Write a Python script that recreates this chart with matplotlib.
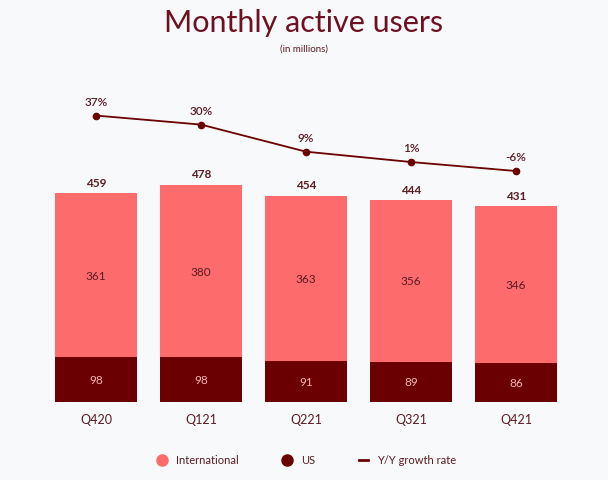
import matplotlib
matplotlib.use("Agg")
import matplotlib.pyplot as plt
from matplotlib.lines import Line2D

quarters = ["Q420", "Q121", "Q221", "Q321", "Q421"]
international = [361, 380, 363, 356, 346]
us = [98, 98, 91, 89, 86]
totals = [459, 478, 454, 444, 431]
growth = [37, 30, 9, 1, -6]
growth_labels = ["37%", "30%", "9%", "1%", "-6%"]

C_INT = "#fd6b6c"
C_US = "#6a0001"
C_TXT = "#5a1a22"
C_TITLE = "#6e1020"
BG = "#f8f9fb"

plt.rcParams['font.family'] = ['Lato', 'DejaVu Sans']

fig = plt.figure(figsize=(6.08, 4.81), dpi=100, facecolor=BG)
W, H = 608, 481
left = 43.5 / W
width = 525 / W
bottom = 1 - 403 / H
height = 303.6 / H
ax = fig.add_axes([left, bottom, width, height])
ax.set_facecolor("none")
x = list(range(len(quarters)))
ax.bar(x, us, width=0.78, color=C_US)
ax.bar(x, international, bottom=us, width=0.78, color=C_INT)
ax.set_xlim(-0.5, 4.5)
ax.set_ylim(0, 668)
for i in x:
    ax.text(i, us[i] / 2, str(us[i]), ha="center", va="center", color="#f3b5b5", fontsize=8.5)
    ax.text(i, us[i] + international[i] / 2, str(international[i]), ha="center", va="center",
            color=C_TXT, fontsize=8.5)
    ax.text(i, totals[i] + 12, str(totals[i]), ha="center", va="bottom", color=C_TXT,
            fontsize=8.5, fontweight="bold")
for s in ax.spines.values():
    s.set_visible(False)
ax.set_yticks([])
ax.set_xticks(x)
ax.set_xticklabels(quarters, color=C_TXT, fontsize=9)
ax.tick_params(axis="x", length=0, pad=8)

ax2 = fig.add_axes([left, bottom, width, height])
ax2.set_facecolor("none")
ax2.plot(x, growth, color=C_US, lw=1.3, marker="o", ms=4.5)
ax2.set_xlim(-0.5, 4.5)
ax2.set_ylim(-185, 50.3)
ax2.axis("off")
for i in x:
    ax2.text(i, growth[i] + 7, growth_labels[i], ha="center", va="bottom", color=C_TXT,
             fontsize=8.5, fontweight="semibold")

fig.text(0.5, 1 - 23 / H, "Monthly active users", ha="center", va="center",
         color=C_TITLE, fontsize=22)
fig.text(0.5, 1 - 49 / H, "(in millions)", ha="center", va="center",
         color=C_TXT, fontsize=7)

handles = [
    Line2D([], [], marker="o", ls="", color=C_INT, ms=8),
    Line2D([], [], marker="o", ls="", color=C_US, ms=8),
    Line2D([], [], color=C_US, lw=2),
]
fig.legend(handles, ["International", "US", "Y/Y growth rate"], loc="center",
           bbox_to_anchor=(0.505, 1 - 461 / H), ncol=3, frameon=False, fontsize=8,
           labelcolor=C_TXT, columnspacing=4.0, handlelength=0.8, handletextpad=0.8)

fig.savefig("out.png", dpi=100, facecolor=BG)
